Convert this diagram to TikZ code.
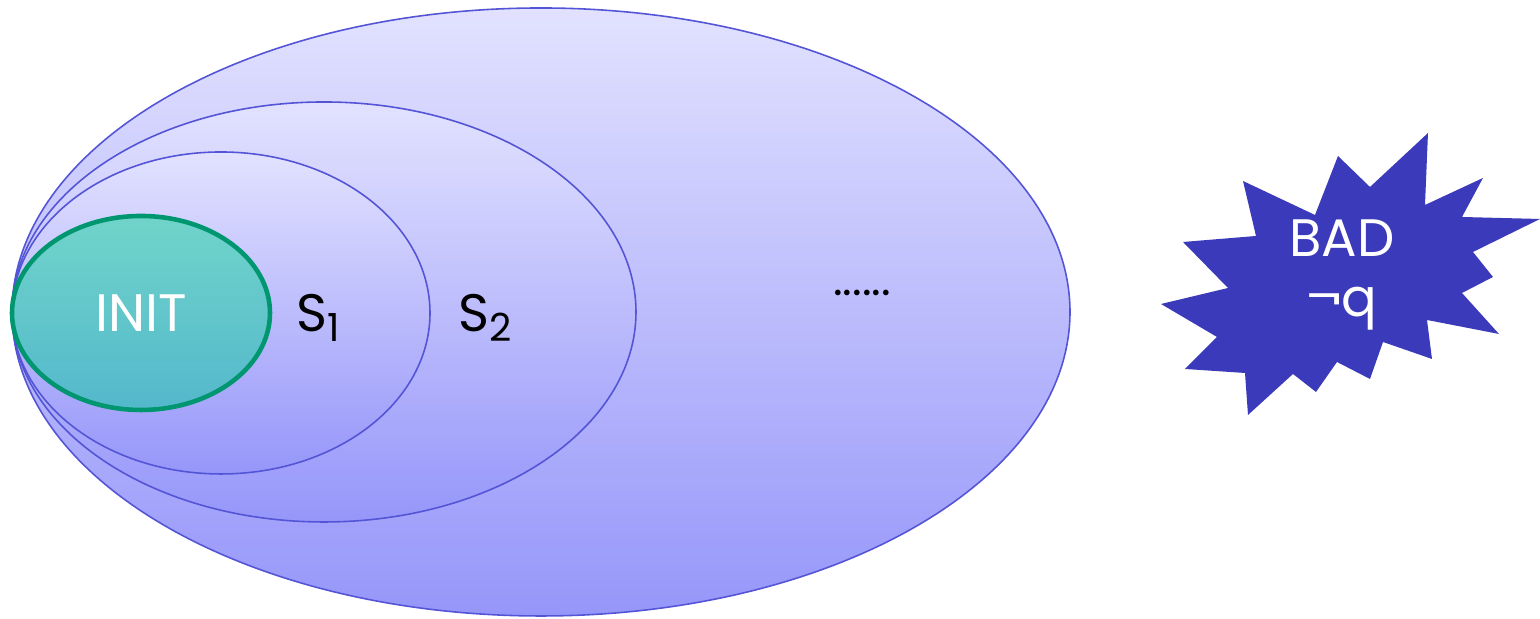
\documentclass[tikz,border=0pt]{standalone}
\usepackage{fontspec}
\setmainfont{Poppins}
\usepackage{tikz}
\usetikzlibrary{positioning}
\definecolor{setline}{RGB}{84,84,214}
\definecolor{settop}{RGB}{226,226,255}
\definecolor{setbot}{RGB}{150,150,250}
\definecolor{initline}{RGB}{0,150,112}
\definecolor{inittop}{RGB}{112,212,202}
\definecolor{initbot}{RGB}{84,184,204}
\definecolor{badfill}{RGB}{58,58,186}
\newcommand{\lowsub}[1]{\raisebox{-0.35ex}{\fontsize{11}{11}\selectfont #1}}
\tikzset{
  stateset/.style={draw=setline, line width=0.45pt,
                   top color=settop, bottom color=setbot},
  initset/.style={draw=initline, line width=1.3pt,
                  top color=inittop, bottom color=initbot},
  badstar/.style={fill=badfill, draw=none},
  setlabel/.style={font=\fontsize{15}{18}\selectfont, text=black},
  whitelabel/.style={font=\fontsize{15}{13}\selectfont, text=white, align=center}
}
\begin{document}
\begin{tikzpicture}
  \useasboundingbox (0,0) rectangle (15.4,6.19);
  % nested reachable sets
  \path[stateset] (5.41,3.07) ellipse [x radius=5.29cm, y radius=3.04cm];
  \path[stateset] (3.24,3.07) ellipse [x radius=3.12cm, y radius=2.10cm];
  \path[stateset] (2.21,3.06) ellipse [x radius=2.09cm, y radius=1.61cm];
  \path[initset] (1.41,3.06) ellipse [x radius=1.29cm, y radius=0.97cm];

  % labels
  \node[whitelabel] (init) at (1.41,3.06) {INIT};
  \node[setlabel] (s1) at (3.18,3.01) {S\lowsub{1}};
  \node[setlabel] (s2) at (4.85,3.01) {S\lowsub{2}};
  \node[setlabel, font=\fontsize{13}{15}\selectfont] (dots) at (8.62,3.26) {......};

  % bad states
  \path[badstar] (14.28,4.86) -- (14.25,4.14) -- (14.83,4.41) -- (14.62,4.02)
    -- (15.40,4.00) -- (14.73,3.67) -- (14.93,3.42) -- (14.62,3.26)
    -- (14.99,2.85) -- (14.27,2.99) -- (14.32,2.60) -- (13.83,2.77)
    -- (13.70,2.40) -- (13.37,2.57) -- (13.16,2.27) -- (12.93,2.45)
    -- (12.48,2.04) -- (12.45,2.46) -- (11.85,2.50) -- (12.17,2.82)
    -- (11.61,3.15) -- (12.28,3.31) -- (11.83,3.77) -- (12.56,3.83)
    -- (12.43,4.38) -- (13.15,4.04) -- (13.38,4.63) -- (13.70,4.32) -- cycle;
  \node[whitelabel] (bad) at (13.42,3.44) {BAD\\[4pt]¬q};
\end{tikzpicture}
\end{document}
